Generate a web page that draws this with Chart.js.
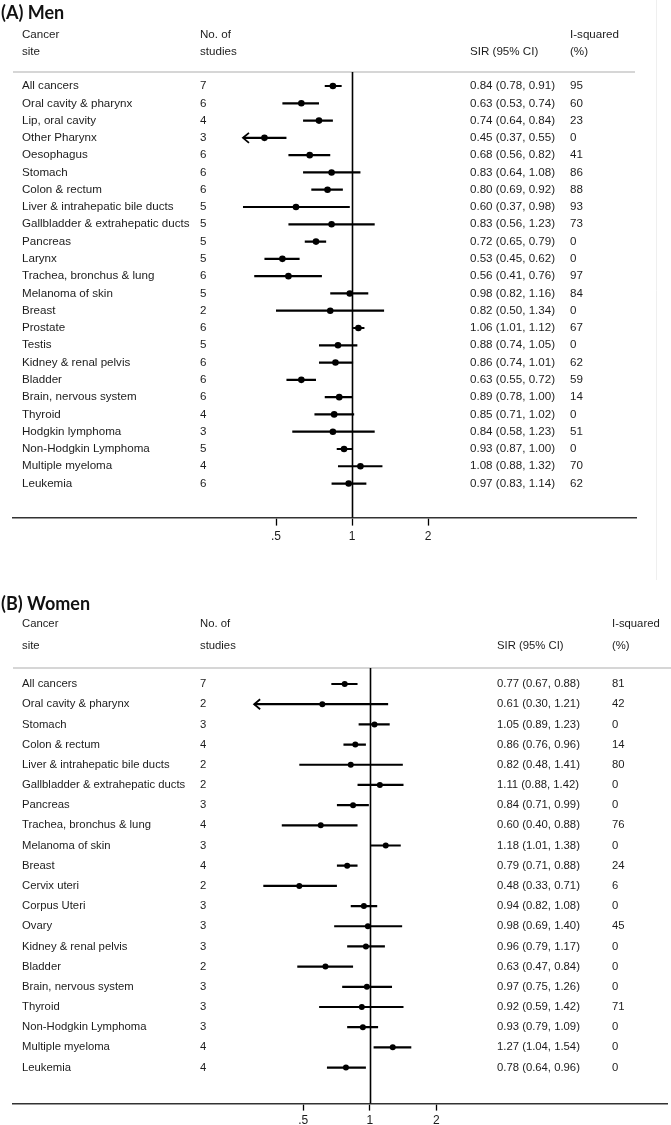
<!DOCTYPE html>
<html>
<head>
<meta charset="utf-8">
<script src="https://cdn.jsdelivr.net/npm/chart.js@4.4.1/dist/chart.umd.min.js"></script>
<style>
html, body { margin: 0; padding: 0; background: #fff; }
#wrap { position: relative; width: 671px; height: 1125px; overflow: hidden; }
canvas { position: absolute; left: 0; }
</style>
</head>
<body>
<div id="wrap">
  <canvas id="men" width="671" height="580" style="top:0"></canvas>
  <canvas id="women" width="671" height="565" style="top:580px"></canvas>
</div>
<script>
// (A) Men
const menSites = ['All cancers', 'Oral cavity & pharynx', 'Lip, oral cavity', 'Other Pharynx', 'Oesophagus',
    'Stomach', 'Colon & rectum', 'Liver & intrahepatic bile ducts', 'Gallbladder & extrahepatic ducts',
    'Pancreas', 'Larynx', 'Trachea, bronchus & lung', 'Melanoma of skin', 'Breast', 'Prostate', 'Testis',
    'Kidney & renal pelvis', 'Bladder', 'Brain, nervous system', 'Thyroid', 'Hodgkin lymphoma',
    'Non-Hodgkin Lymphoma', 'Multiple myeloma', 'Leukemia'];
const menStudies = [7, 6, 4, 3, 6, 6, 6, 5, 5, 5, 5, 6, 5, 2, 6, 5, 6, 6, 6, 4, 3, 5, 4, 6];
const menSir = [0.84, 0.63, 0.74, 0.45, 0.68, 0.83, 0.80, 0.60, 0.83, 0.72, 0.53, 0.56, 0.98, 0.82, 1.06, 0.88, 0.86, 0.63, 0.89, 0.85, 0.84, 0.93, 1.08, 0.97];
const menLo = [0.78, 0.53, 0.64, 0.37, 0.56, 0.64, 0.69, 0.37, 0.56, 0.65, 0.45, 0.41, 0.82, 0.50, 1.01, 0.74, 0.74, 0.55, 0.78, 0.71, 0.58, 0.87, 0.88, 0.83];
const menHi = [0.91, 0.74, 0.84, 0.55, 0.82, 1.08, 0.92, 0.98, 1.23, 0.79, 0.62, 0.76, 1.16, 1.34, 1.12, 1.05, 1.01, 0.72, 1.00, 1.02, 1.23, 1.00, 1.32, 1.14];
const menI2 = [95, 60, 23, 0, 41, 86, 88, 93, 73, 0, 0, 97, 84, 0, 67, 0, 62, 59, 14, 0, 51, 0, 70, 62];
const menTruncated = ['Other Pharynx'];

// (B) Women
const womenSites = ['All cancers', 'Oral cavity & pharynx', 'Stomach', 'Colon & rectum',
    'Liver & intrahepatic bile ducts', 'Gallbladder & extrahepatic ducts', 'Pancreas',
    'Trachea, bronchus & lung', 'Melanoma of skin', 'Breast', 'Cervix uteri', 'Corpus Uteri', 'Ovary',
    'Kidney & renal pelvis', 'Bladder', 'Brain, nervous system', 'Thyroid', 'Non-Hodgkin Lymphoma',
    'Multiple myeloma', 'Leukemia'];
const womenStudies = [7, 2, 3, 4, 2, 2, 3, 4, 3, 4, 2, 3, 3, 3, 2, 3, 3, 3, 4, 4];
const womenSir = [0.77, 0.61, 1.05, 0.86, 0.82, 1.11, 0.84, 0.60, 1.18, 0.79, 0.48, 0.94, 0.98, 0.96, 0.63, 0.97, 0.92, 0.93, 1.27, 0.78];
const womenLo = [0.67, 0.30, 0.89, 0.76, 0.48, 0.88, 0.71, 0.40, 1.01, 0.71, 0.33, 0.82, 0.69, 0.79, 0.47, 0.75, 0.59, 0.79, 1.04, 0.64];
const womenHi = [0.88, 1.21, 1.23, 0.96, 1.41, 1.42, 0.99, 0.88, 1.38, 0.88, 0.71, 1.08, 1.40, 1.17, 0.84, 1.26, 1.42, 1.09, 1.54, 0.96];
const womenI2 = [81, 42, 0, 14, 80, 0, 0, 76, 0, 24, 6, 0, 45, 0, 0, 0, 71, 0, 0, 0];
const womenTruncated = ['Oral cavity & pharynx'];

const xTicks = [0.5, 1, 2];

const TEXT = '#1c1c1c';
const FONT = '"Liberation Sans", Arial, sans-serif';

// draws the table text, header rule, reference line and truncation arrows
const tablePlugin = {
    id: 'table',
    afterDatasetsDraw(chart) {
        const p = chart.options.plugins.table;
        const ctx = chart.ctx;
        const xs = chart.scales.x;
        const ys = chart.scales.y;
        const area = chart.chartArea;

        ctx.save();
        // title
        ctx.fillStyle = '#111';
        ctx.font = 'bold 18px Lato, "Open Sans", sans-serif';
        ctx.textBaseline = 'middle';
        ctx.fillText(p.title, 1, p.titleY);

        // header
        ctx.font = p.headFont;
        ctx.fillStyle = TEXT;
        ctx.fillText('Cancer', p.cols[0], p.head1);
        ctx.fillText('site', p.cols[0], p.head2);
        ctx.fillText('No. of', p.cols[1], p.head1);
        ctx.fillText('studies', p.cols[1], p.head2);
        ctx.fillText('SIR (95% CI)', p.cols[2], p.head2);
        ctx.fillText('I-squared', p.cols[3], p.head1);
        ctx.fillText('(%)', p.cols[3], p.head2);

        // header rule
        ctx.strokeStyle = '#c9c9c9';
        ctx.lineWidth = 1.5;
        ctx.beginPath();
        ctx.moveTo(area.left, area.top);
        ctx.lineTo(p.ruleRight, area.top);
        ctx.stroke();

        // rows
        ctx.font = p.rowFont;
        p.sites.forEach((s, i) => {
            const y = ys.getPixelForValue(i);
            ctx.fillText(s, p.cols[0], y);
            ctx.fillText(String(p.studies[i]), p.cols[1], y);
            ctx.fillText(p.sir[i].toFixed(2) + ' (' + p.lo[i].toFixed(2) + ', ' + p.hi[i].toFixed(2) + ')', p.cols[2], y);
            ctx.fillText(String(p.i2[i]), p.cols[3], y);
        });

        // line of no effect
        const x1 = Math.round(xs.getPixelForValue(1)) + 0.5;
        ctx.strokeStyle = '#000';
        ctx.lineWidth = 1.6;
        ctx.beginPath();
        ctx.moveTo(x1, area.top);
        ctx.lineTo(x1, area.bottom);
        ctx.stroke();

        // arrows for truncated intervals
        ctx.lineWidth = 1.8;
        p.truncated.forEach(s => {
            const i = p.sites.indexOf(s);
            const x = xs.getPixelForValue(p.lo[i]);
            const y = ys.getPixelForValue(i);
            ctx.beginPath();
            ctx.moveTo(x + 6, y - 5);
            ctx.lineTo(x, y);
            ctx.lineTo(x + 6, y + 5);
            ctx.stroke();
        });

        if (p.frame) {
            ctx.strokeStyle = '#efefef';
            ctx.lineWidth = 1;
            ctx.beginPath();
            ctx.moveTo(656.5, 0);
            ctx.lineTo(656.5, 596);
            ctx.stroke();
        }
        ctx.restore();
    }
};

function forest(id, d, lay) {
    const n = d.sites.length;
    const lx = Math.pow(2, (lay.left - lay.one) / lay.doubling);
    const rx = Math.pow(2, (lay.right - lay.one) / lay.doubling);
    const yMin = -(lay.row0 - lay.top) / lay.pitch;
    const yMax = n - 1 + (lay.axis - lay.rowLast) / lay.pitch;

    const ciData = [];
    d.sites.forEach((s, i) => {
        ciData.push({ x: d.lo[i], y: i }, { x: d.hi[i], y: i }, { x: null, y: i });
    });

    new Chart(document.getElementById(id), {
        type: 'scatter',
        data: {
            datasets: [{
                label: 'CI',
                data: ciData,
                showLine: true,
                spanGaps: false,
                borderColor: '#000',
                borderWidth: 2.2,
                pointRadius: 0,
                clip: false
            }, {
                label: 'SIR',
                data: d.sir.map((v, i) => ({ x: v, y: i })),
                backgroundColor: '#000',
                borderColor: '#000',
                pointRadius: lay.dot,
                borderWidth: 0,
                clip: false
            }]
        },
        options: {
            responsive: false,
            animation: false,
            layout: {
                padding: { left: lay.left, right: 671 - lay.right, top: lay.top, bottom: lay.padBottom }
            },
            scales: {
                x: {
                    type: 'logarithmic',
                    min: lx,
                    max: rx,
                    afterBuildTicks: sc => { sc.ticks = xTicks.map(v => ({ value: v })); },
                    ticks: {
                        callback: v => (v === 0.5 ? '.5' : String(v)),
                        color: TEXT,
                        font: { family: FONT, size: 12 },
                        padding: lay.tickPad,
                        maxRotation: 0,
                        autoSkip: false
                    },
                    grid: {
                        drawOnChartArea: false,
                        tickLength: lay.tickLen,
                        tickColor: '#000',
                        tickWidth: 1.3
                    },
                    border: { display: true, color: '#333', width: 1.6 }
                },
                y: {
                    type: 'linear',
                    reverse: true,
                    min: yMin,
                    max: yMax,
                    display: false
                }
            },
            plugins: {
                legend: { display: false },
                tooltip: { enabled: false },
                table: Object.assign({}, d, lay.text)
            }
        },
        plugins: [tablePlugin]
    });
}

forest('men', {
    sites: menSites, studies: menStudies, sir: menSir, lo: menLo, hi: menHi, i2: menI2, truncated: menTruncated
}, {
    left: 13, right: 636, one: 352, doubling: 76,
    top: 72, row0: 86, rowLast: 483, pitch: 17.26, axis: 517, padBottom: 32,
    tickLen: 8, tickPad: 4, dot: 3.3,
    text: {
        title: '(A) Men', titleY: 13, head1: 35, head2: 52,
        cols: [22, 200, 470, 570], ruleRight: 635, frame: true,
        headFont: '11.6px ' + FONT, rowFont: '11.6px ' + FONT
    }
});

forest('women', {
    sites: womenSites, studies: womenStudies, sir: womenSir, lo: womenLo, hi: womenHi, i2: womenI2, truncated: womenTruncated
}, {
    left: 13, right: 671, one: 372, doubling: 67,
    top: 88, row0: 104, rowLast: 487, pitch: 20.16, axis: 523, padBottom: 14,
    tickLen: 7, tickPad: 3, dot: 3,
    text: {
        title: '(B) Women', titleY: 24, head1: 44, head2: 66,
        cols: [22, 200, 497, 612], ruleRight: 671, frame: false,
        headFont: '11.3px ' + FONT, rowFont: '11.3px ' + FONT
    }
});
</script>
</body>
</html>
